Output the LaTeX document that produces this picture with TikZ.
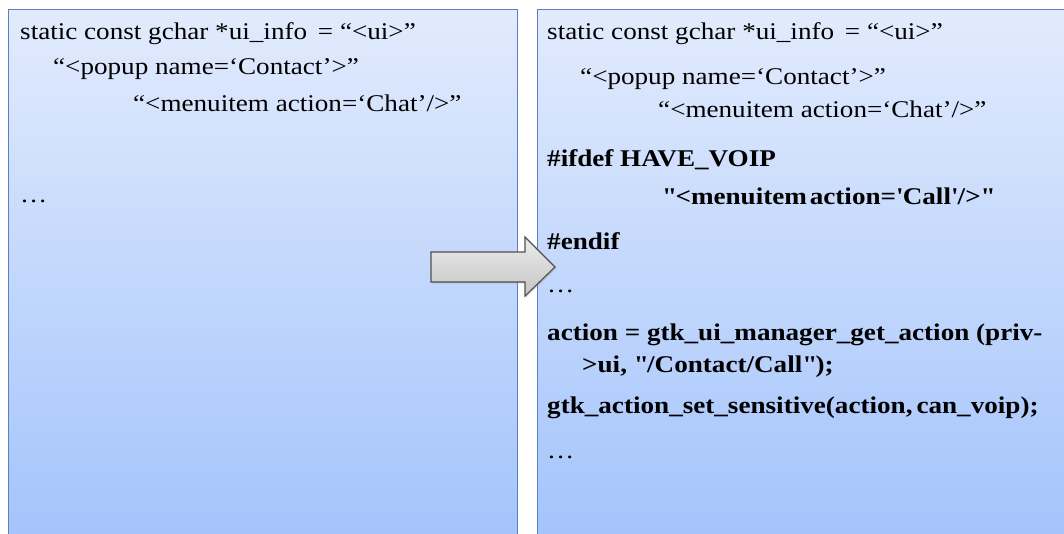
\documentclass[tikz,border=0pt]{standalone}
\usepackage{fontspec}
\setmainfont{Liberation Serif}[FakeStretch=1.13]
\usetikzlibrary{shadows}
\definecolor{paneltop}{RGB}{226,235,253}
\definecolor{panelbot}{RGB}{162,195,251}
\definecolor{panelline}{RGB}{92,128,190}
\definecolor{arrowtop}{RGB}{236,236,236}
\definecolor{arrowbot}{RGB}{196,196,196}
\definecolor{arrowline}{RGB}{80,80,80}
\tikzset{
  panel/.style={draw=panelline, line width=1.3pt, top color=paneltop, bottom color=panelbot,
    anchor=north west, inner sep=0pt},
  code/.style={anchor=base west, inner sep=0pt, font=\fontsize{24}{28}\selectfont},
  codeb/.style={code, font=\fontsize{24}{28}\selectfont\bfseries},
  bigarrow/.style={draw=arrowline, line width=1.1pt, top color=arrowtop, bottom color=arrowbot,
    line join=miter, drop shadow={shadow xshift=1pt, shadow yshift=-1.5pt, opacity=0.35}}
}
\begin{document}
\begin{tikzpicture}[x=1pt,y=-1pt]
\useasboundingbox (0,0) rectangle (1064,534);
% the two code panels
\node[panel, minimum width=509pt, minimum height=540pt] (left) at (8,9) {};
\node[panel, minimum width=540pt, minimum height=540pt] (right) at (537,9) {};
% block arrow between the panels
\draw[bigarrow] (431,252) -- (525,252) -- (525,237) -- (555,267) -- (525,296) -- (525,282) -- (431,282) -- cycle;
% left panel: original code
\node[code] (l1) at (20,40) {static const gchar *ui\_info \,= “<ui>”};
\node[code] (l2) at (53,75) {“<popup name=‘Contact’>”};
\node[code] (l3) at (133,112) {“<menuitem action=‘Chat’/>”};
\node[code] (l4) at (20,203) {\ldots};
% right panel: code with the conditional menu item
\node[code] (r1) at (547,40) {static const gchar *ui\_info \,= “<ui>”};
\node[code] (r2) at (580,85) {“<popup name=‘Contact’>”};
\node[code] (r3) at (658,118) {“<menuitem action=‘Chat’/>”};
\node[codeb] (r4) at (547,167) {\#ifdef HAVE\_VOIP};
\node[codeb] (r5) at (662,205) {\textquotedbl<menuitem\hspace{0.12em}action=\textquotesingle Call\textquotesingle/>\textquotedbl};
\node[codeb] (r6) at (547,250) {\#endif};
\node[code] (r7) at (547,293) {\ldots};
\node[codeb] (r8) at (547,340) {action = gtk\_ui\_manager\_get\_action (priv-};
\node[codeb] (r9) at (582,372) {>ui, \textquotedbl/Contact/Call\textquotedbl);};
\node[codeb] (r10) at (547,413) {gtk\_action\_set\_sensitive(action,\,can\_voip);};
\node[code] (r11) at (547,458) {\ldots};
\end{tikzpicture}
\end{document}
